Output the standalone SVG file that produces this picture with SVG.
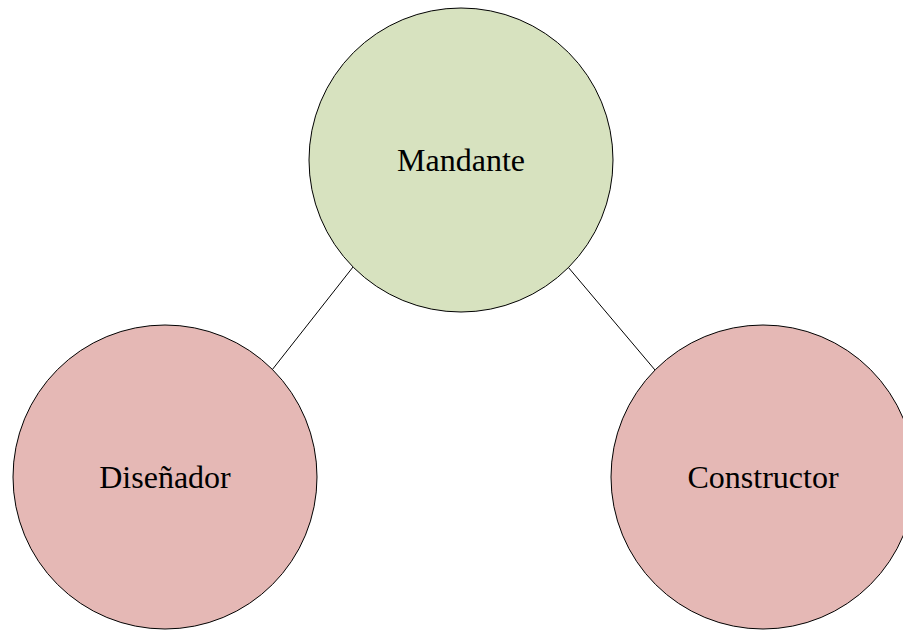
<svg xmlns="http://www.w3.org/2000/svg" width="903" height="630" viewBox="0 0 903 630">
  <style>
    .node { stroke: #000; stroke-width: 1; }
    .green { fill: #d7e2bf; }
    .red { fill: #e5b8b5; }
    .label { font-family: "Liberation Serif", "Times New Roman", serif; font-size: 32px; fill: #000; text-anchor: middle; }
    .edge { stroke: #000; stroke-width: 1; fill: none; }
  </style>
  <rect width="903" height="630" fill="#fff"/>
  <g id="connectors">
    <line class="edge" x1="353" y1="267" x2="272" y2="370"/>
    <line class="edge" x1="568" y1="267" x2="655" y2="370"/>
  </g>
  <g id="mandante">
    <circle class="node green" cx="461" cy="160" r="152"/>
    <text class="label" x="461" y="171">Mandante</text>
  </g>
  <g id="disenador">
    <circle class="node red" cx="165" cy="477" r="152"/>
    <text class="label" x="165" y="488">Diseñador</text>
  </g>
  <g id="constructor">
    <circle class="node red" cx="763" cy="477" r="152"/>
    <text class="label" x="763" y="488">Constructor</text>
  </g>
</svg>
